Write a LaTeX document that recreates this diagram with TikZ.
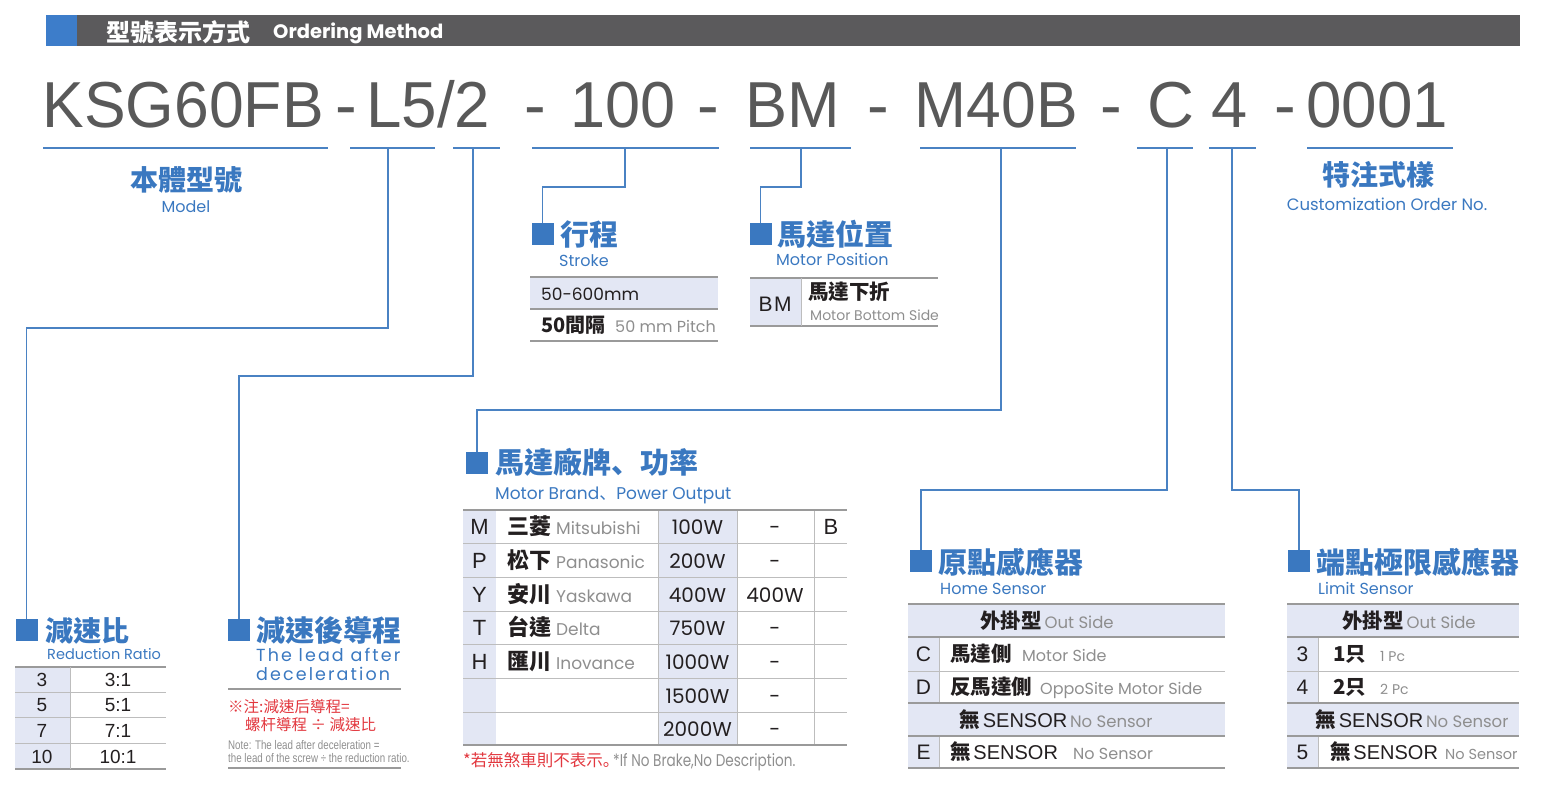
\documentclass[tikz,border=0pt]{standalone}
\usepackage{fontspec}
\usepackage{graphicx}
\setmainfont{Liberation Sans}
\newfontfamily\cjk{Noto Sans CJK TC}
\newfontfamily\cjksc{Noto Sans CJK SC}
\newfontfamily\geo{Poppins}
\newfontfamily\geows[LetterSpace=12]{Poppins}
\newcommand\fs[1]{\fontsize{#1}{#1}\selectfont}
\definecolor{hgray}{HTML}{5B5A5C}
\definecolor{hblue}{HTML}{3D7DCA}
\definecolor{tblue}{HTML}{3A78C0}
\definecolor{cline}{HTML}{4A82C3}
\definecolor{codegray}{HTML}{595959}
\definecolor{shadec}{HTML}{E3E7F4}
\definecolor{lgray}{HTML}{8E8E8E}
\definecolor{dark}{HTML}{231F20}
\definecolor{redc}{HTML}{E2383F}
\definecolor{tgray}{HTML}{9A9A9A}
\definecolor{tgrayl}{HTML}{BDBDBD}
\begin{document}
\begin{tikzpicture}[x=1pt,y=-1pt,
  conn/.style={draw=cline, line width=1.7pt},
  uline/.style={draw=cline, line width=1.3pt},
  sq/.style={fill=tblue, minimum size=22pt, inner sep=0pt},
  head/.style={anchor=base west, inner sep=0pt, text=tblue, font=\cjk\bfseries\fs{29}},
  sub/.style={anchor=base west, inner sep=0pt, text=tblue, font=\geo\fs{16}},
  code/.style={anchor=base west, inner sep=0pt, text=codegray, font=\fs{65}},
  tl/.style={draw=tgray, line width=1.8pt},
  tn/.style={draw=tgrayl, line width=0.9pt},
  cb/.style={anchor=base, inner sep=0pt, text=dark},
  lb/.style={anchor=base west, inner sep=0pt, text=dark},
  gl/.style={anchor=base west, inner sep=0pt, text=lgray, font=\geo\fs{16}},
  cjb/.style={anchor=base west, inner sep=0pt, text=dark, font=\cjk\bfseries\fs{20.5}}
]
\useasboundingbox (0,0) rectangle (1542,787);

% ---------- header bar
\fill[hgray] (46,15) rectangle (1520,46);
\fill[hblue] (46,15) rectangle (77,46);
\node[anchor=base west, inner sep=0pt, text=white, font=\cjk\bfseries\fs{24}] (tcj) at (106,41) {型號表示方式};
\node[anchor=base west, inner sep=0pt, text=white, font=\geo\bfseries\fs{19.5}] (ten) at (273,38) {Ordering Method};

% ---------- code line
\node[code] (cK) at (42.5,127) {\scalebox{0.96}[1]{KSG60FB}};
\node[code] (h1) at (335,127) {-};
\node[code] (cL) at (366,127) {\scalebox{0.98}[1]{L5/2}};
\node[code] (h2) at (524,127) {-};
\node[code] (c100) at (570,127) {\scalebox{0.97}[1]{100}};
\node[code] (h3) at (697,127) {-};
\node[code] (cBM) at (745.5,127) {\scalebox{0.97}[1]{BM}};
\node[code] (h4) at (867,127) {-};
\node[code] (cM) at (914.5,127) {\scalebox{0.96}[1]{M40B}};
\node[code] (h5) at (1100,127) {-};
\node[code] (cC) at (1147,127) {C};
\node[code] (c4) at (1211,127) {4};
\node[code] (h6) at (1274,127) {-};
\node[code] (c0) at (1306,127) {\scalebox{0.98}[1]{0001}};

% ---------- underlines
\draw[uline] (43,148) -- (328,148);
\draw[uline] (350,148) -- (435,148);
\draw[uline] (453,148) -- (500,148);
\draw[uline] (532,148) -- (719,148);
\draw[uline] (750,148) -- (851,148);
\draw[uline] (920,148) -- (1076,148);
\draw[uline] (1137,148) -- (1193,148);
\draw[uline] (1209,148) -- (1256,148);
\draw[uline] (1307,148) -- (1453,148);
\coordinate (tL) at (388,148);
\coordinate (tS) at (473,148);
\coordinate (t100) at (625,148);
\coordinate (tBM) at (801,148);
\coordinate (tM) at (1001,148);
\coordinate (tC) at (1167,148);
\coordinate (t4) at (1232,148);

% ---------- model & customization
\node[anchor=base, inner sep=0pt, text=tblue, font=\cjk\bfseries\fs{28}] (mod) at (186,190) {本體型號};
\node[anchor=base, inner sep=0pt, text=tblue, font=\geo\fs{16}] (mode) at (186,212) {Model};
\node[anchor=base, inner sep=0pt, text=tblue, font=\cjk\bfseries\fs{28}] (cus) at (1378,185) {特注式樣};
\node[anchor=base, inner sep=0pt, text=tblue, font=\geo\fs{16.5}] (cuse) at (1387,210) {Customization Order No.};

% ---------- squares
\node[sq] (sqStroke) at (542.5,234) {};
\node[sq] (sqPos) at (760.5,234) {};
\node[sq] (sqRed) at (26.5,630) {};
\node[sq] (sqLead) at (239,630) {};
\node[sq] (sqBrand) at (477,463) {};
\node[sq] (sqHome) at (921,561) {};
\node[sq] (sqLim) at (1299,561) {};

% ---------- connectors
\draw[conn] (t100) -- (625,187) -| (sqStroke.north);
\draw[conn] (tBM) -- (801,187) -| (sqPos.north);
\draw[conn] (tL) -- (388,328) -| (sqRed.north);
\draw[conn] (tS) -- (473,376) -| (sqLead.north);
\draw[conn] (tM) -- (1001,410) -| (sqBrand.north);
\draw[conn] (tC) -- (1167,490) -| (sqHome.north);
\draw[conn] (t4) -- (1232,490) -| (sqLim.north);

% ---------- stroke
\node[head] (hStroke) at (560,245) {行程};
\node[sub] (eStroke) at (559,266) {Stroke};
\fill[shadec] (530,277) rectangle (718,309);
\draw[tl] (530,277) -- (718,277);
\draw[tl] (530,309) -- (718,309);
\draw[tl] (530,341) -- (718,341);
\node[lb, font=\geo\fs{17}] (s1) at (541,300) {50-600mm};
\node[lb, font=\cjk\bfseries\fs{20}] (s2) at (541,332) {50間隔};
\node[gl] (s3) at (615,332) {50 mm Pitch};

% ---------- motor position
\node[head] (hPos) at (777,245) {馬達位置};
\node[sub] (ePos) at (776,265) {Motor Position};
\fill[shadec] (750,278) rectangle (801,326);
\draw[tl] (750,278) -- (938,278);
\draw[tl] (750,326) -- (938,326);
\draw[tn] (801,278) -- (801,326);
\node[cb, font=\fs{21}] (bm) at (775,311) {B\kern1.5pt M};
\node[cjb] (bm1) at (808,299) {馬達下折};
\node[gl, font=\geo\fs{14}] (bm2) at (810,320) {Motor Bottom Side};

% ---------- reduction ratio
\node[head, font=\cjk\bfseries\fs{28}] (hRed) at (45,641) {減速比};
\node[sub, font=\geo\fs{14.5}] (eRed) at (47,659) {Reduction Ratio};
\fill[shadec] (15,667) rectangle (70,769);
\draw[tl] (15,667) -- (166,667);
\draw[tn] (15,692) -- (166,692);
\draw[tn] (15,717) -- (166,717);
\draw[tn] (15,743) -- (166,743);
\draw[tl] (15,769) -- (166,769);
\draw[tn] (70,667) -- (70,769);
\foreach \y/\a/\b [count=\i] in {686.5/3/3:1, 711.5/5/5:1, 737/7/7:1, 763/10/10:1} {
  \node[cb, font=\fs{19}] (ra\i) at (42,\y) {\a};
  \node[cb, font=\fs{19}] (rb\i) at (118,\y) {\b};
}

% ---------- lead after deceleration
\node[head] (hLead) at (256,641) {減速後導程};
\node[sub, font=\geows\fs{17.5}] (eLead1) at (256,661) {The lead after};
\node[sub, font=\geows\fs{17.5}] (eLead2) at (256,680) {deceleration};
\draw[tl] (228,689) -- (401,689);
\node[anchor=base west, inner sep=0pt, text=redc, font=\cjk\fs{15.5}] (n1) at (228,712) {※注:減速后導程=};
\node[anchor=base west, inner sep=0pt, text=redc, font=\cjk\fs{15.5}] (n2) at (245,730) {螺杆導程 ÷ 減速比};
\node[anchor=base west, inner sep=0pt, text=lgray] (n3) at (228,749) {\scalebox{0.78}[1]{\fs{12.5}Note: The lead after deceleration =}};
\node[anchor=base west, inner sep=0pt, text=lgray] (n4) at (228,762) {\scalebox{0.78}[1]{\fs{12.5}the lead of the screw ÷ the reduction ratio.}};
\draw[tl] (228,768) -- (401,768);

% ---------- motor brand / power
\node[head] (hBrand) at (495,473) {馬達廠牌{\cjksc 、}功率};
\node[sub, font=\geo\fs{17}] (eBrand) at (495,499) {Motor Brand{\cjksc 、}Power Output};
\fill[shadec] (463,510) rectangle (496,745);
\fill[shadec] (658,510) rectangle (737,745);
\foreach \y in {543,577,611,644,678,712} { \draw[tn] (463,\y) -- (847,\y); }
\foreach \x in {658,737,814} { \draw[tn] (\x,510) -- (\x,745); }
\draw[tl] (463,510) -- (847,510);
\draw[tl] (463,745) -- (847,745);
\foreach \y/\L/\C/\E in {534.5/M/三菱/Mitsubishi, 568/P/松下/Panasonic, 602/Y/安川/Yaskawa, 635.5/T/台達/Delta, 669/H/匯川/Inovance} {
  \node[cb, font=\fs{22}] (ml\L) at (479.5,\y) {\L};
  \node[lb] (mb\L) at (507,\y) {{\cjk\bfseries\fs{22}\C}\hspace{5pt}{\geo\fs{17}\color{lgray}\E}};
}
\foreach \y/\P/\Q [count=\i] in {534.5/100W/-, 568/200W/-, 602/400W/400W, 635.5/750W/-, 669/1000W/-, 703/1500W/-, 736.5/2000W/-} {
  \node[cb, font=\geo\fs{20}] (mp\i) at (697.5,\y) {\P};
  \node[cb, font=\geo\fs{20}] (mq\i) at (775,\y) {\Q};
}
\node[cb, font=\fs{22}] (mB) at (831,534.5) {B};
\node[anchor=base west, inner sep=0pt, text=redc, font=\cjk\fs{16.5}] (f1) at (463,766) {*若無煞車則不表示{\cjksc 。}};
\node[anchor=base west, inner sep=0pt, text=lgray] (f2) at (613,766) {\scalebox{0.8}[1]{\geo\fs{17}*If No Brake,No Description.}};

% ---------- home sensor
\node[head] (hHome) at (938,573) {原點感應器};
\node[sub] (eHome) at (940,594) {Home Sensor};
\fill[shadec] (908,604) rectangle (1225,637);
\fill[shadec] (908,637) rectangle (939,703);
\fill[shadec] (908,703) rectangle (1225,736);
\fill[shadec] (908,736) rectangle (939,768);
\draw[tn] (939,637) -- (939,703);
\draw[tn] (939,736) -- (939,768);
\draw[tl] (908,604) -- (1225,604);
\draw[tl] (908,637) -- (1225,637);
\draw[tn] (908,671) -- (1225,671);
\draw[tl] (908,703) -- (1225,703);
\draw[tl] (908,736) -- (1225,736);
\draw[tl] (908,768) -- (1225,768);
\node[cb] (h1a) at (1047,628) {{\cjk\bfseries\fs{20.5}外掛型}{\geo\fs{16.5}\color{lgray}\,Out Side}};
\node[cb, font=\fs{21}] (hC) at (923.5,661.5) {C};
\node[cjb] (hC1) at (950,661.5) {馬達側};
\node[gl] (hC2) at (1022,661.5) {Motor Side};
\node[cb, font=\fs{21}] (hD) at (923.5,694.5) {D};
\node[cjb] (hD1) at (950,694.5) {反馬達側};
\node[gl] (hD2) at (1040,694.5) {OppoSite Motor Side};
\node[cb] (h4a) at (1056,727) {{\cjk\bfseries\fs{20.5}無} {\fs{20}SENSOR} {\geo\fs{16.5}\color{lgray}No Sensor}};
\node[cb, font=\fs{21}] (hE) at (923.5,759.5) {E};
\node[lb] (hE1) at (950,759.5) {{\cjk\bfseries\fs{20.5}無} {\fs{20}SENSOR}};
\node[gl] (hE2) at (1073,759.5) {No Sensor};

% ---------- limit sensor
\node[head] (hLim) at (1316,573) {端點極限感應器};
\node[sub] (eLim) at (1318,594) {Limit Sensor};
\fill[shadec] (1287,604) rectangle (1519,637);
\fill[shadec] (1287,637) rectangle (1318,703);
\fill[shadec] (1287,703) rectangle (1519,736);
\fill[shadec] (1287,736) rectangle (1318,768);
\draw[tn] (1318,637) -- (1318,703);
\draw[tn] (1318,736) -- (1318,768);
\draw[tl] (1287,604) -- (1519,604);
\draw[tl] (1287,637) -- (1519,637);
\draw[tn] (1287,671) -- (1519,671);
\draw[tl] (1287,703) -- (1519,703);
\draw[tl] (1287,736) -- (1519,736);
\draw[tl] (1287,768) -- (1519,768);
\node[cb] (l1a) at (1409,628) {{\cjk\bfseries\fs{20.5}外掛型}{\geo\fs{16.5}\color{lgray}\,Out Side}};
\node[cb, font=\fs{21}] (l3) at (1302.5,661.5) {3};
\node[cjb] (l31) at (1333,661.5) {1只};
\node[gl, font=\geo\fs{14}] (l32) at (1380,661.5) {1 Pc};
\node[cb, font=\fs{21}] (l4) at (1302.5,694.5) {4};
\node[cjb] (l41) at (1333,694.5) {2只};
\node[gl, font=\geo\fs{14}] (l42) at (1380,694.5) {2 Pc};
\node[cb] (l4a) at (1412,727) {{\cjk\bfseries\fs{20.5}無} {\fs{20}SENSOR} {\geo\fs{16.5}\color{lgray}No Sensor}};
\node[cb, font=\fs{21}] (l5) at (1302.5,759.5) {5};
\node[lb] (l51) at (1330,759.5) {{\cjk\bfseries\fs{20.5}無} {\fs{20}SENSOR}};
\node[gl, font=\geo\fs{14.5}] (l52) at (1445,759.5) {No Sensor};
\end{tikzpicture}
\end{document}
